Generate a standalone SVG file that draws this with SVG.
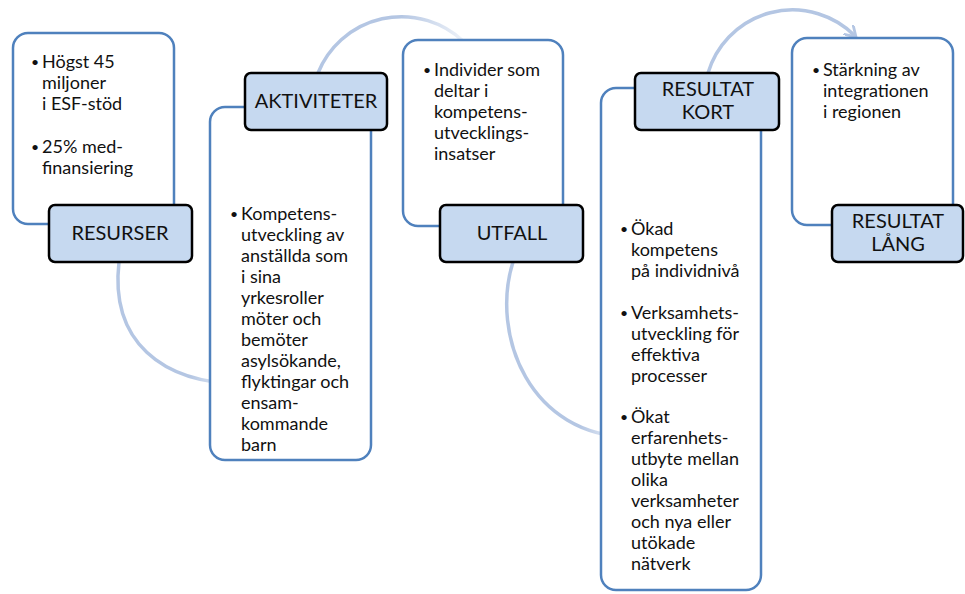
<svg xmlns="http://www.w3.org/2000/svg" width="965" height="594" viewBox="0 0 965 594">
<defs>
<style>
.tb{fill:#ffffff;stroke:#4f81bd;stroke-width:2.5}
.lb{fill:#c6d9f0;stroke:#000000;stroke-width:2.5}
.t{font-family:Lato,"Open Sans",sans-serif;font-size:18px;fill:#111111}
.b{font-size:14px}
.lt{font-family:Lato,"Open Sans",sans-serif;font-size:20px;fill:#111111;text-anchor:middle}
.arc{fill:none;stroke-width:3.5}
</style>
<linearGradient id="g1" gradientUnits="userSpaceOnUse" x1="190" y1="0" x2="245" y2="0">
<stop offset="0" stop-color="#b4c6e3"/><stop offset="1" stop-color="#b4c6e3" stop-opacity="0"/>
</linearGradient>
<linearGradient id="g2" gradientUnits="userSpaceOnUse" x1="400" y1="0" x2="470" y2="0">
<stop offset="0" stop-color="#b4c6e3"/><stop offset="1" stop-color="#b4c6e3" stop-opacity="0.15"/>
</linearGradient>
<linearGradient id="g3" gradientUnits="userSpaceOnUse" x1="580" y1="0" x2="632" y2="0">
<stop offset="0" stop-color="#b4c6e3"/><stop offset="1" stop-color="#b4c6e3" stop-opacity="0"/>
</linearGradient>
<marker id="ah" viewBox="0 0 10 10" refX="6" refY="5" markerWidth="4" markerHeight="4" orient="auto" markerUnits="strokeWidth">
<path d="M0,0 L8,5 L0,10" fill="none" stroke="#b4c6e3" stroke-width="2"/>
</marker>
</defs>
<g id="connectors">
<path class="arc" stroke="url(#g1)" d="M119,262 C110,340 160,384 245,384"/>
<path class="arc" stroke="url(#g2)" d="M318,73 A90,90 0 0,1 463,41"/>
<path class="arc" stroke="url(#g3)" d="M513,262 C490,335 530,437 632,437"/>
<path class="arc" stroke="#b4c6e3" d="M708,73 A88,88 0 0,1 854,35" marker-end="url(#ah)"/>
</g>
<g id="resurser">
<rect class="tb" x="13" y="33" width="161" height="191" rx="15"/>
<text class="t"><tspan class="b" x="31" y="67">•</tspan><tspan x="42" y="68">Högst 45</tspan><tspan x="42" y="89">miljoner</tspan><tspan x="42" y="110">i ESF-stöd</tspan><tspan class="b" x="31" y="152">•</tspan><tspan x="42" y="153">25% med-</tspan><tspan x="42" y="174">finansiering</tspan></text>
<rect class="lb" x="49" y="205" width="143" height="57" rx="6"/>
<text class="lt" x="120" y="240">RESURSER</text>
</g>
<g id="aktiviteter">
<rect class="tb" x="210" y="107" width="161" height="353" rx="15"/>
<text class="t"><tspan class="b" x="230" y="219">•</tspan><tspan x="241" y="220">Kompetens-</tspan><tspan x="241" y="241">utveckling av</tspan><tspan x="241" y="262">anställda som</tspan><tspan x="241" y="283">i sina</tspan><tspan x="241" y="304">yrkesroller</tspan><tspan x="241" y="325">möter och</tspan><tspan x="241" y="346">bemöter</tspan><tspan x="241" y="367">asylsökande,</tspan><tspan x="241" y="388">flyktingar och</tspan><tspan x="241" y="409">ensam-</tspan><tspan x="241" y="430">kommande</tspan><tspan x="241" y="451">barn</tspan></text>
<rect class="lb" x="245" y="73" width="142" height="57" rx="6"/>
<text class="lt" x="316" y="108">AKTIVITETER</text>
</g>
<g id="utfall">
<rect class="tb" x="403" y="40" width="160" height="186" rx="15"/>
<text class="t"><tspan class="b" x="423" y="75">•</tspan><tspan x="434" y="76">Individer som</tspan><tspan x="434" y="97">deltar i</tspan><tspan x="434" y="118">kompetens-</tspan><tspan x="434" y="139">utvecklings-</tspan><tspan x="434" y="160">insatser</tspan></text>
<rect class="lb" x="440" y="205" width="143" height="57" rx="6"/>
<text class="lt" x="512" y="240">UTFALL</text>
</g>
<g id="resultat-kort">
<rect class="tb" x="601" y="88" width="160" height="502" rx="15"/>
<text class="t"><tspan class="b" x="620" y="234">•</tspan><tspan x="631" y="235">Ökad</tspan><tspan x="631" y="256">kompetens</tspan><tspan x="631" y="277">på individnivå</tspan><tspan class="b" x="620" y="318">•</tspan><tspan x="631" y="319">Verksamhets-</tspan><tspan x="631" y="340">utveckling för</tspan><tspan x="631" y="361">effektiva</tspan><tspan x="631" y="382">processer</tspan><tspan class="b" x="620" y="422">•</tspan><tspan x="631" y="423">Ökat</tspan><tspan x="631" y="444">erfarenhets-</tspan><tspan x="631" y="465">utbyte mellan</tspan><tspan x="631" y="486">olika</tspan><tspan x="631" y="507">verksamheter</tspan><tspan x="631" y="528">och nya eller</tspan><tspan x="631" y="549">utökade</tspan><tspan x="631" y="570">nätverk</tspan></text>
<rect class="lb" x="635" y="73" width="144" height="57" rx="6"/>
<text class="lt"><tspan x="708" y="96">RESULTAT</tspan><tspan x="708" y="119">KORT</tspan></text>
</g>
<g id="resultat-lang">
<rect class="tb" x="792" y="38" width="161" height="187" rx="15"/>
<text class="t"><tspan class="b" x="812" y="75">•</tspan><tspan x="823" y="76">Stärkning av</tspan><tspan x="823" y="97">integrationen</tspan><tspan x="823" y="118">i regionen</tspan></text>
<rect class="lb" x="832" y="205" width="131" height="57" rx="6"/>
<text class="lt"><tspan x="898" y="228">RESULTAT</tspan><tspan x="898" y="251">LÅNG</tspan></text>
</g>
</svg>
